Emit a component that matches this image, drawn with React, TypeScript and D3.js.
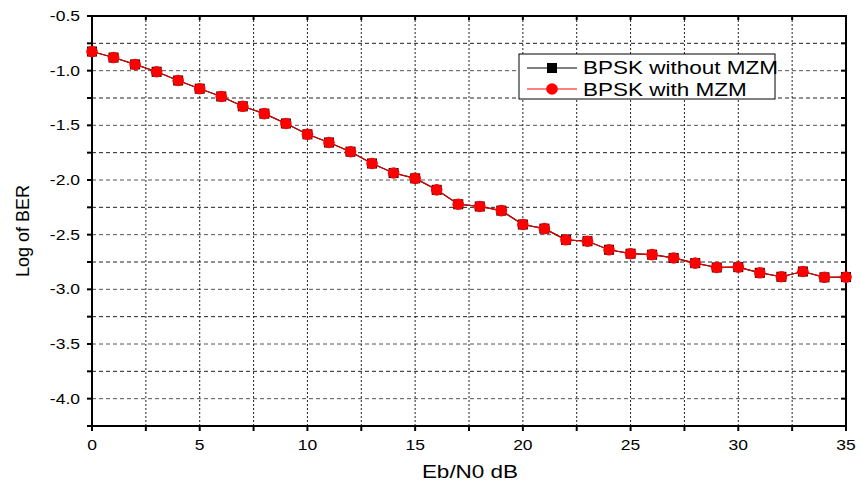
import React from "react";
import * as d3 from "d3";

const ebn0: number[] = Array.from({ length: 36 }, (_, i) => i);
const berWithout: number[] = [
  -0.825, -0.88, -0.943, -1.01, -1.09, -1.165, -1.236, -1.326, -1.393, -1.483,
  -1.582, -1.657, -1.741, -1.849, -1.936, -1.985, -2.09, -2.222, -2.242, -2.28,
  -2.407, -2.445, -2.547, -2.56, -2.638, -2.674, -2.683, -2.713, -2.76, -2.8,
  -2.797, -2.849, -2.885, -2.837, -2.89, -2.888,
];
const berWith: number[] = [...berWithout];
const xTicks: number[] = [0, 5, 10, 15, 20, 25, 30, 35];
const yTicks: number[] = [-4.0, -3.5, -3.0, -2.5, -2.0, -1.5, -1.0, -0.5];
const seriesNames: string[] = ["BPSK without MZM", "BPSK with MZM"];

const W = 860, H = 487;
const L = 92, R = 846, T = 16, B = 426;
const SX = 1.25;

export default function App() {
  const x = d3.scaleLinear().domain([0, 35]).range([L, R]);
  const y = d3.scaleLinear().domain([-4.25, -0.5]).range([B, T]);
  const line = d3.line<number>().x((_, i) => x(ebn0[i])).y((d) => y(d));
  const xGrid = d3.range(2.5, 35, 2.5);
  const yGrid = d3.range(-4.0, -0.5, 0.25);
  const font = "Arial, 'Liberation Sans', sans-serif";
  const T_ = (props: { x: number; y: number; size: number; anchor?: string; children: any; rot?: number }) => (
    <g transform={`translate(${props.x},${props.y}) ${props.rot ? `rotate(${props.rot})` : `scale(${SX},1)`}`}>
      <text x={0} y={0} fontSize={props.size} fontFamily={font} textAnchor={props.anchor || "start"} fill="#000">
        {props.children}
      </text>
    </g>
  );
  return (
    <svg width={W} height={H} style={{ position: "absolute", left: 0, top: 0, background: "#fff" }}>
      <rect x={0} y={0} width={W} height={H} fill="#fff" />
      {yGrid.map((v, i) => (
        <line key={"hy" + i} x1={L} x2={R} y1={y(v)} y2={y(v)} stroke={i % 2 === 0 ? "#555" : "#222"} strokeWidth={1} strokeDasharray="4,3" />
      ))}
      {xGrid.map((v, i) => (
        <line key={"vx" + i} x1={x(v)} x2={x(v)} y1={T} y2={B} stroke="#222" strokeWidth={1} strokeDasharray="2,2" />
      ))}
      {/* frame */}
      <rect x={L} y={T} width={R - L} height={B - T} fill="none" stroke="#000" strokeWidth={2} />
      {/* y ticks */}
      {yGrid.concat([-4.25, -0.5]).map((v, i) => (
        <g key={"yt" + i}>
          <line x1={L - 5} x2={L} y1={y(v)} y2={y(v)} stroke="#000" strokeWidth={2} />
          <line x1={R - 5} x2={R} y1={y(v)} y2={y(v)} stroke="#000" strokeWidth={2} />
        </g>
      ))}
      {d3.range(0, 35.1, 2.5).map((v, i) => (
        <g key={"xt" + i}>
          <line x1={x(v)} x2={x(v)} y1={B} y2={B + 5} stroke="#000" strokeWidth={2} />
          <line x1={x(v)} x2={x(v)} y1={T} y2={T + 4} stroke="#000" strokeWidth={2} />
        </g>
      ))}
      {yTicks.map((v) => (
        <T_ key={"yl" + v} x={80} y={y(v) + 5} size={14} anchor="end">{v.toFixed(1)}</T_>
      ))}
      {xTicks.map((v) => (
        <T_ key={"xl" + v} x={x(v)} y={450} size={14} anchor="middle">{String(v)}</T_>
      ))}
      <T_ x={470} y={478} size={18} anchor="middle">Eb/N0 dB</T_>
      <g transform={`translate(29,231) rotate(-90)`}>
        <text x={0} y={0} fontSize={18} fontFamily={font} textAnchor="middle" fill="#000">Log of BER</text>
      </g>
      {/* series */}
      <path d={line(berWithout) || ""} fill="none" stroke="#000" strokeWidth={1.2} />
      {berWithout.map((v, i) => (
        <rect key={"s" + i} x={x(ebn0[i]) - 5} y={y(v) - 5} width={10} height={10} fill="#000" />
      ))}
      <path d={line(berWith) || ""} fill="none" stroke="#e00000" strokeWidth={1.2} />
      {berWith.map((v, i) => (
        <circle key={"c" + i} cx={x(ebn0[i])} cy={y(v)} r={5.8} fill="#ff0000" />
      ))}
      {/* legend */}
      <rect x={519} y={54} width={256} height={45} fill="#fff" stroke="#000" strokeWidth={1} />
      <line x1={527} x2={577} y1={68} y2={68} stroke="#000" strokeWidth={1} />
      <rect x={547} y={63} width={10} height={10} fill="#000" />
      <line x1={527} x2={577} y1={89} y2={89} stroke="#ff0000" strokeWidth={1} />
      <circle cx={552} cy={89} r={5.8} fill="#ff0000" />
      <T_ x={583} y={74} size={18}>{seriesNames[0]}</T_>
      <T_ x={583} y={96} size={18}>{seriesNames[1]}</T_>
    </svg>
  );
}
